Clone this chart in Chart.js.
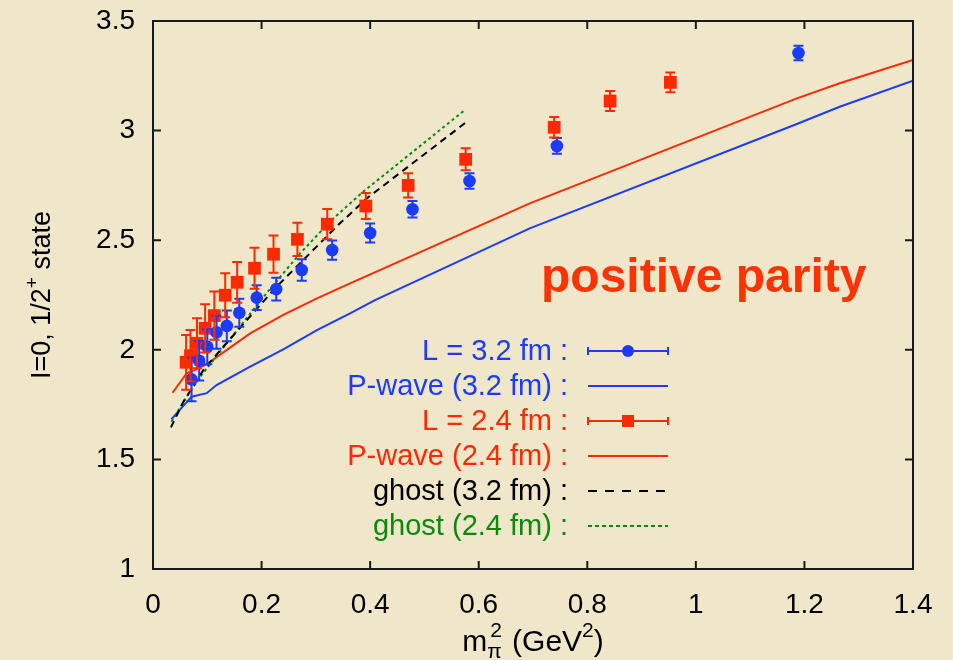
<!DOCTYPE html>
<html>
<head>
<meta charset="utf-8">
<script src="https://cdn.jsdelivr.net/npm/chart.js@4"></script>
<style>
  body { margin: 0; background: #f0e6ca; }
  canvas { display: block; }
</style>
</head>
<body>
<canvas id="myChart" width="953" height="660"></canvas>
<script>
// L = 3.2 fm lattice points (blue circles)
const mpi2_L32 = [0.071, 0.085, 0.100, 0.117, 0.136, 0.159, 0.191, 0.227, 0.274, 0.330, 0.400, 0.478, 0.583, 0.744, 1.189];
const mass_L32 = [1.865, 1.950, 2.014, 2.080, 2.109, 2.169, 2.238, 2.277, 2.364, 2.455, 2.533, 2.641, 2.770, 2.930, 3.354];
const err_L32  = [0.100, 0.090, 0.080, 0.075, 0.070, 0.064, 0.057, 0.052, 0.049, 0.044, 0.043, 0.038, 0.035, 0.036, 0.033];

// L = 2.4 fm lattice points (red squares)
const mpi2_L24 = [0.061, 0.069, 0.081, 0.096, 0.113, 0.133, 0.155, 0.187, 0.222, 0.266, 0.321, 0.392, 0.470, 0.576, 0.739, 0.842, 0.953];
const mass_L24 = [1.943, 1.973, 2.030, 2.098, 2.156, 2.249, 2.308, 2.372, 2.436, 2.504, 2.573, 2.656, 2.750, 2.869, 3.015, 3.135, 3.220];
const err_L24  = [0.125, 0.117, 0.114, 0.110, 0.110, 0.100, 0.093, 0.094, 0.085, 0.076, 0.069, 0.059, 0.055, 0.050, 0.047, 0.046, 0.045];

// P-wave curves
const pw32_x = [0.034, 0.071, 0.099, 0.117, 0.179, 0.240, 0.302, 0.363, 0.409, 0.694, 1.186, 1.265, 1.400];
const pw32_y = [1.683, 1.786, 1.802, 1.839, 1.923, 2.002, 2.090, 2.166, 2.227, 2.554, 3.030, 3.109, 3.228];
const pw24_x = [0.036, 0.062, 0.081, 0.099, 0.179, 0.240, 0.302, 0.363, 0.694, 1.186, 1.265, 1.400];
const pw24_y = [1.804, 1.893, 1.912, 1.935, 2.075, 2.159, 2.235, 2.303, 2.668, 3.147, 3.216, 3.322];

// ghost curves
const gh32_x = [0.033, 0.056, 0.093, 0.127, 0.173, 0.225, 0.283, 0.341, 0.394, 0.486, 0.582];
const gh32_y = [1.646, 1.763, 1.908, 2.007, 2.136, 2.281, 2.425, 2.569, 2.691, 2.866, 3.048];
const gh24_x = [0.034, 0.062, 0.087, 0.148, 0.209, 0.271, 0.329, 0.387, 0.573];
const gh24_y = [1.672, 1.786, 1.877, 2.068, 2.258, 2.440, 2.592, 2.721, 3.091];

const xTicks = [0, 0.2, 0.4, 0.6, 0.8, 1, 1.2, 1.4];
const xTickLabels = ['0', '0.2', '0.4', '0.6', '0.8', '1', '1.2', '1.4'];
const yTicks = [1, 1.5, 2, 2.5, 3, 3.5];
const yTickLabels = ['1', '1.5', '2', '2.5', '3', '3.5'];

const legendLabels = ['L = 3.2 fm :', 'P-wave (3.2 fm) :', 'L = 2.4 fm :', 'P-wave (2.4 fm) :', 'ghost (3.2 fm) :', 'ghost (2.4 fm) :'];

const BLUE = '#1b3cff';
const RED = '#ff2a00';
const GREEN = '#0a8a0a';
const BLACK = '#000000';
const FONT = '"Liberation Sans", Arial, Helvetica, sans-serif';

function pairs(xs, ys) {
  return xs.map((x, i) => ({ x: x, y: ys[i] }));
}

// error bars for the two point sets
const errorBars = {
  id: 'errorBars',
  afterDatasetsDraw(chart) {
    const ctx = chart.ctx;
    const xs = chart.scales.x, ys = chart.scales.y;
    const sets = [[mpi2_L32, mass_L32, err_L32, BLUE], [mpi2_L24, mass_L24, err_L24, RED]];
    ctx.save();
    ctx.lineWidth = 2;
    sets.forEach(([mx, my, me, col]) => {
      ctx.strokeStyle = col;
      mx.forEach((x, i) => {
        const px = xs.getPixelForValue(x);
        const top = ys.getPixelForValue(my[i] + me[i]);
        const bot = ys.getPixelForValue(my[i] - me[i]);
        ctx.beginPath();
        ctx.moveTo(px, top); ctx.lineTo(px, bot);
        ctx.moveTo(px - 5, top); ctx.lineTo(px + 5, top);
        ctx.moveTo(px - 5, bot); ctx.lineTo(px + 5, bot);
        ctx.stroke();
      });
    });
    ctx.restore();
  }
};

// gnuplot style frame with inward ticks on all four sides, plus axis titles
const frame = {
  id: 'frame',
  afterDraw(chart) {
    const ctx = chart.ctx;
    const a = chart.chartArea;
    const xs = chart.scales.x, ys = chart.scales.y;
    ctx.save();
    ctx.strokeStyle = '#1a1a1a';
    ctx.lineWidth = 2;
    ctx.strokeRect(a.left, a.top, a.right - a.left, a.bottom - a.top);
    ctx.beginPath();
    xTicks.forEach(v => {
      const p = xs.getPixelForValue(v);
      ctx.moveTo(p, a.bottom); ctx.lineTo(p, a.bottom - 8);
      ctx.moveTo(p, a.top); ctx.lineTo(p, a.top + 8);
    });
    yTicks.forEach(v => {
      const p = ys.getPixelForValue(v);
      ctx.moveTo(a.left, p); ctx.lineTo(a.left + 8, p);
      ctx.moveTo(a.right, p); ctx.lineTo(a.right - 8, p);
    });
    ctx.stroke();

    // x title: m_pi^2 (GeV^2)
    ctx.fillStyle = '#000';
    ctx.textBaseline = 'alphabetic';
    const big = '30px ' + FONT, small = '21px ' + FONT;
    const base = 651;
    ctx.font = big;
    const wm = ctx.measureText('m').width;
    const wrest = ctx.measureText(' (GeV').width + ctx.measureText(')').width;
    ctx.font = small;
    const wpi = ctx.measureText('\u03c0').width, w2 = ctx.measureText('2').width;
    const total = wm + Math.max(wpi, w2) + 2 + wrest + w2;
    let x = (a.left + a.right) / 2 - total / 2;
    ctx.font = big; ctx.fillText('m', x, base); x += wm;
    ctx.font = small;
    ctx.fillText('\u03c0', x, base + 7);
    ctx.fillText('2', x + 3, base - 14);
    x += Math.max(wpi, w2) + 2;
    ctx.font = big; ctx.fillText(' (GeV', x, base); x += ctx.measureText(' (GeV').width;
    ctx.font = small; ctx.fillText('2', x, base - 14); x += w2;
    ctx.font = big; ctx.fillText(')', x, base);

    // y title: I=0, 1/2+ state
    ctx.translate(50, (a.top + a.bottom) / 2);
    ctx.rotate(-Math.PI / 2);
    const ybig = '27px ' + FONT, ysmall = '19px ' + FONT;
    const yparts = [['I=0, 1/2', ybig, 0], ['+', ysmall, -12], [' state', ybig, 0]];
    let yw = 0;
    yparts.forEach(p => { ctx.font = p[1]; yw += ctx.measureText(p[0]).width; });
    let yx = -yw / 2;
    yparts.forEach(p => {
      ctx.font = p[1];
      ctx.fillText(p[0], yx, p[2]);
      yx += ctx.measureText(p[0]).width;
    });
    ctx.restore();
  }
};

// key with right aligned labels and samples to the right
const key = {
  id: 'key',
  afterDraw(chart) {
    const ctx = chart.ctx;
    const rows = [351, 386, 421, 456, 491, 526];
    const colors = [BLUE, BLUE, RED, RED, BLACK, GREEN];
    const textRight = 568, s0 = 588, s1 = 668, mid = 628;
    ctx.save();
    ctx.font = '29px ' + FONT;
    ctx.textAlign = 'right';
    ctx.textBaseline = 'middle';
    ctx.lineWidth = 2;
    legendLabels.forEach((lab, i) => {
      const y = rows[i];
      ctx.fillStyle = colors[i];
      ctx.strokeStyle = colors[i];
      ctx.fillText(lab, textRight, y + 1);
      ctx.setLineDash(i === 4 ? [9, 8] : i === 5 ? [4, 3] : []);
      ctx.beginPath();
      ctx.moveTo(s0, y); ctx.lineTo(s1, y);
      if (i === 0 || i === 2) {
        ctx.moveTo(s0, y - 4); ctx.lineTo(s0, y + 4);
        ctx.moveTo(s1, y - 4); ctx.lineTo(s1, y + 4);
      }
      ctx.stroke();
      ctx.setLineDash([]);
      if (i === 0) {
        ctx.beginPath(); ctx.arc(mid, y, 6, 0, Math.PI * 2); ctx.fill();
      } else if (i === 2) {
        ctx.fillRect(mid - 6, y - 6, 12, 12);
      }
    });
    ctx.font = 'bold 48px ' + FONT;
    ctx.fillStyle = '#ff3300';
    ctx.textAlign = 'left';
    ctx.textBaseline = 'alphabetic';
    ctx.fillText('positive parity', 541, 292);
    ctx.restore();
  }
};

const ctx = document.getElementById('myChart').getContext('2d');
const myChart = new Chart(ctx, {
  type: 'scatter',
  data: {
    datasets: [
      { label: 'L = 3.2 fm', data: pairs(mpi2_L32, mass_L32), pointStyle: 'circle', pointRadius: 6.3,
        backgroundColor: BLUE, borderWidth: 0, showLine: false },
      { label: 'L = 2.4 fm', data: pairs(mpi2_L24, mass_L24), pointStyle: 'rect', pointRadius: 9,
        backgroundColor: RED, borderWidth: 0, showLine: false },
      { label: 'ghost (3.2 fm)', data: pairs(gh32_x, gh32_y), showLine: true, pointRadius: 0,
        borderColor: BLACK, borderWidth: 2, borderDash: [7, 5] },
      { label: 'ghost (2.4 fm)', data: pairs(gh24_x, gh24_y), showLine: true, pointRadius: 0,
        borderColor: GREEN, borderWidth: 2, borderDash: [3, 3] },
      { label: 'P-wave (3.2 fm)', data: pairs(pw32_x, pw32_y), showLine: true, pointRadius: 0,
        borderColor: BLUE, borderWidth: 2 },
      { label: 'P-wave (2.4 fm)', data: pairs(pw24_x, pw24_y), showLine: true, pointRadius: 0,
        borderColor: RED, borderWidth: 2 }
    ]
  },
  options: {
    responsive: false,
    animation: false,
    layout: { padding: { left: 0, right: 40, top: 21, bottom: 0 } },
    plugins: { legend: { display: false }, tooltip: { enabled: false } },
    scales: {
      x: {
        type: 'linear', min: 0, max: 1.4,
        afterBuildTicks: s => { s.ticks = xTicks.map(v => ({ value: v })); },
        afterFit: s => { s.height = 91; s.paddingLeft = 0; s.paddingRight = 0; },
        grid: { display: false, drawTicks: false },
        border: { display: false },
        ticks: {
          color: '#000', padding: 19, maxRotation: 0, autoSkip: false,
          font: { family: FONT, size: 28 },
          callback: v => xTickLabels[xTicks.indexOf(v)]
        }
      },
      y: {
        type: 'linear', min: 1, max: 3.5,
        afterBuildTicks: s => { s.ticks = yTicks.map(v => ({ value: v })); },
        afterFit: s => { s.width = 153; s.paddingTop = 0; s.paddingBottom = 0; },
        grid: { display: false, drawTicks: false },
        border: { display: false },
        ticks: {
          color: '#000', padding: 18, autoSkip: false,
          font: { family: FONT, size: 28 },
          callback: v => yTickLabels[yTicks.indexOf(v)]
        }
      }
    }
  },
  plugins: [errorBars, frame, key]
});
</script>
</body>
</html>
